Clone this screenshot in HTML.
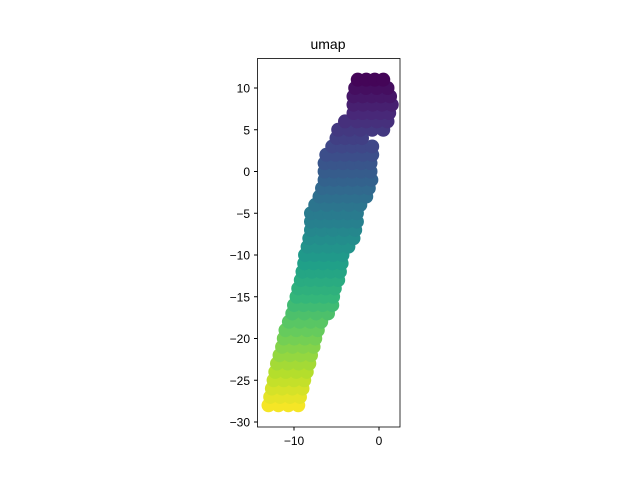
<!DOCTYPE html>
<html><head><meta charset="utf-8"><style>
body{margin:0;background:#fff;}
svg text{font-family:"Liberation Sans",sans-serif;font-size:12px;fill:#000;}
</style></head><body>
<svg id="chart" width="640" height="480">
<rect width="640" height="480" fill="#fff"/>
<g id="pts"></g>
<rect x="257.5" y="58.5" width="142.5" height="368.5" fill="none" stroke="#000" stroke-width="0.8"/>
<g id="axes"></g>
<text x="328" y="49" text-anchor="middle" style="font-size:14px">umap</text>
</svg>
<script>
const rowY    = [-28,-27,-26,-25,-24,-23,-22,-21,-20,-19,-18,-17,-16,-15,-14,-13,-12,-11,-10,-9,-8,-7,-6,-5,-4,-3,-2,-1,0,1,2,3,4,5,6,5,6,7,8,9,10,11];
const rowLeft = [-13,-12.8,-12.6,-12.4,-12.2,-12,-11.7,-11.4,-11.2,-11,-10.6,-10.2,-10,-9.7,-9.5,-9.2,-9,-8.8,-8.7,-8.4,-8.2,-8,-8,-8,-7.5,-7,-6.7,-6.4,-6.4,-6.4,-6.2,-5.5,-5,-4.8,-4,-0.8,-1.5,-3,-3,-3,-2.8,-2.5];
const rowRight= [-9.5,-9.3,-9,-8.8,-8.5,-8.2,-8,-7.7,-7.5,-7.2,-6.8,-6,-5.5,-5.4,-5.2,-4.8,-4.6,-4.4,-4.3,-3.6,-3,-2.8,-2.6,-2.6,-2.2,-1.5,-1.2,-0.9,-1,-1,-0.8,-0.8,-2,-2.2,-2.6,0.5,1,1.2,1.5,1.3,1,0.5];
const xTicks = [-10,0];
const yTicks = [10,5,0,-5,-10,-15,-20,-25,-30];
const X = v => 379 + v*8.5;
const Y = v => 171.5 - v*8.35;
const vir = [[68,1,84],[72,40,120],[62,74,137],[49,104,142],[38,130,142],[31,158,137],[53,183,121],[110,206,88],[181,222,43],[253,231,37]];
function viridis(t){t=Math.max(0,Math.min(1,t))*9;const i=Math.min(8,Math.floor(t)),f=t-i;const a=vir[i],b=vir[i+1];return `rgb(${a.map((c,k)=>Math.round(c+(b[k]-c)*f)).join(',')})`;}
const NS='http://www.w3.org/2000/svg';
const g=document.getElementById('pts');
for(let i=0;i<rowY.length;i++){
 const span=rowRight[i]-rowLeft[i];
 const n=Math.max(1,Math.round(span/1.2));
 for(let k=0;k<=n;k++){
  const xv=rowLeft[i]+span*k/n;
  const c=document.createElementNS(NS,'circle');
  c.setAttribute('cx',X(xv));c.setAttribute('cy',Y(rowY[i]));c.setAttribute('r',7);
  c.setAttribute('fill',viridis((11.5-rowY[i])/40));
  
  
  g.appendChild(c);
 }
}
const ax=document.getElementById('axes');
xTicks.forEach(v=>{
 const l=document.createElementNS(NS,'line');l.setAttribute('x1',X(v));l.setAttribute('x2',X(v));l.setAttribute('y1',427);l.setAttribute('y2',430.5);l.setAttribute('stroke','#000');
 
 
 ax.appendChild(l);
 const t=document.createElementNS(NS,'text');t.setAttribute('x',X(v));t.setAttribute('y',445);t.setAttribute('text-anchor','middle');t.textContent=v<0?'\u2212'+(-v):v;
 
 
 ax.appendChild(t);
});
yTicks.forEach(v=>{
 const l=document.createElementNS(NS,'line');l.setAttribute('x1',254);l.setAttribute('x2',257.5);l.setAttribute('y1',Y(v));l.setAttribute('y2',Y(v));l.setAttribute('stroke','#000');
 
 
 ax.appendChild(l);
 const t=document.createElementNS(NS,'text');t.setAttribute('x',250);t.setAttribute('y',Y(v)+4.5);t.setAttribute('text-anchor','end');t.textContent=v<0?'\u2212'+(-v):v;
 
 
 ax.appendChild(t);
});
</script>
</body></html>
